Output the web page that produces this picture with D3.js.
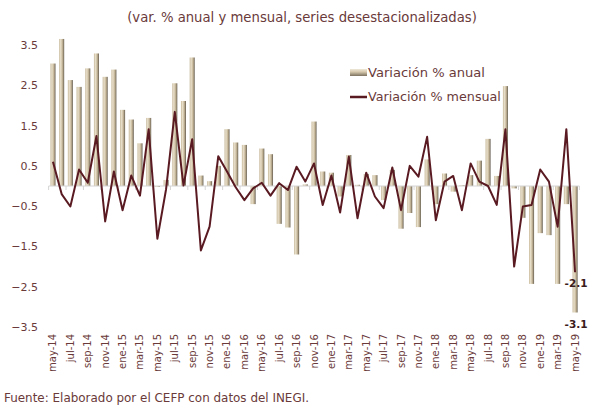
<!DOCTYPE html>
<html><head><meta charset="utf-8">
<script src="https://cdn.jsdelivr.net/npm/d3@7"></script>
<style>
html,body{margin:0;padding:0;background:#fff;}
svg{display:block;font-family:"DejaVu Sans",sans-serif;}
</style></head><body>
<svg id="chart" width="592" height="405"></svg>
<script>
const categories = ["may-14","jun-14","jul-14","ago-14","sep-14","oct-14","nov-14","dic-14",
"ene-15","feb-15","mar-15","abr-15","may-15","jun-15","jul-15","ago-15","sep-15","oct-15","nov-15","dic-15",
"ene-16","feb-16","mar-16","abr-16","may-16","jun-16","jul-16","ago-16","sep-16","oct-16","nov-16","dic-16",
"ene-17","feb-17","mar-17","abr-17","may-17","jun-17","jul-17","ago-17","sep-17","oct-17","nov-17","dic-17",
"ene-18","feb-18","mar-18","abr-18","may-18","jun-18","jul-18","ago-18","sep-18","oct-18","nov-18","dic-18",
"ene-19","feb-19","mar-19","abr-19","may-19"];
const annual = [3.04,3.65,2.63,2.46,2.92,3.29,2.71,2.89,
1.89,1.65,1.06,1.69,0.0,0.15,2.55,2.11,3.19,0.26,0.12,0.5,
1.41,1.08,1.02,-0.45,0.93,0.79,-0.94,-1.03,-1.70,0.04,1.6,0.36,
0.33,-0.26,0.77,0.03,0.3,0.27,-0.35,0.4,-1.06,-0.67,-1.02,0.66,
-0.45,0.31,-0.14,0.02,0.27,0.63,1.17,0.25,2.48,-0.06,-0.79,-2.43,
-1.17,-1.22,-2.43,-0.45,-3.14];
const monthly = [0.60,-0.20,-0.51,0.41,0.08,1.24,-0.88,0.36,
-0.60,0.26,-0.24,1.41,-1.31,-0.08,1.84,0.01,1.16,-1.60,-1.01,0.74,
0.36,-0.03,-0.35,-0.06,0.08,-0.24,0.07,-0.10,0.48,0.11,0.56,-0.47,
0.26,-0.66,0.73,-0.80,0.33,-0.26,-0.55,0.46,-0.60,0.50,0.23,1.22,
-0.85,0.11,0.25,-0.60,0.56,0.11,0.00,-0.47,1.41,-2.00,-0.51,-0.47,
0.41,0.11,-1.01,1.41,-2.14];
const yTicks = [3.5,2.5,1.5,0.5,-0.5,-1.5,-2.5,-3.5];
const seriesNames = ["Variación % anual","Variación % mensual"];
const titleText = "(var. % anual y mensual, series desestacionalizadas)";
const sourceText = "Fuente: Elaborado por el CEFP con datos del INEGI.";
const lastLabels = ["-2.1","-3.1"];

const svg = d3.select("#chart");
const textColor = "#6a3a3a";
const lineColor = "#5a1a22";

const defs = svg.append("defs");
const g1 = defs.append("linearGradient").attr("id","barGrad").attr("x1","0").attr("x2","1").attr("y1","0").attr("y2","0");
[[0,"#c8ba9c"],[0.3,"#e8dfcb"],[0.6,"#cbbd9f"],[0.82,"#9f927a"],[1,"#5c5548"]].forEach(([o,c])=>g1.append("stop").attr("offset",o).attr("stop-color",c));
const g2 = defs.append("linearGradient").attr("id","legGrad").attr("x1","0").attr("x2","0").attr("y1","0").attr("y2","1");
[[0,"#efe8d8"],[0.4,"#d6c9ad"],[1,"#7d7260"]].forEach(([o,c])=>g2.append("stop").attr("offset",o).attr("stop-color",c));

const x = d3.scaleBand().domain(categories).range([48.6,579.4]).paddingInner(0.42).paddingOuter(0.21);
const y = d3.scaleLinear().domain([-3.5,3.5]).range([327,45]);
const step = x.step();
const cx = d => x(d) + x.bandwidth()/2;

function fit(sel, target){
  const w = sel.node().getComputedTextLength();
  const fs = parseFloat(sel.attr("font-size"));
  sel.attr("font-size", (fs*target/w).toFixed(2));
}

// title
const t = svg.append("text").attr("x",302).attr("y",22).attr("text-anchor","middle")
  .attr("font-size",12).attr("fill",textColor).text(titleText);
fit(t,350);

// y axis labels
const yAxis = d3.axisLeft(y).tickValues(yTicks).tickSize(0).tickPadding(0).tickFormat(d3.format(".1f"));
const ya = svg.append("g").attr("transform","translate(38,0)").call(yAxis);
ya.select(".domain").remove();
ya.selectAll("text").attr("fill",textColor).attr("font-size",11).attr("font-family","DejaVu Sans");

// bars
svg.append("g").selectAll("rect").data(annual).join("rect")
  .attr("x",(d,i)=>x(categories[i]))
  .attr("width",x.bandwidth())
  .attr("y",d=>y(Math.max(0,d)))
  .attr("height",d=>Math.max(0.8,Math.abs(y(d)-y(0))))
  .attr("fill","url(#barGrad)");

// zero axis line + ticks
svg.append("line").attr("x1",x.range()[0]).attr("x2",x.range()[1]).attr("y1",y(0)).attr("y2",y(0))
  .attr("stroke","#d4d4d4").attr("stroke-width",1);
svg.append("g").selectAll("line").data(categories.filter((c,i)=>i%2===0).concat(["__end"])).join("line")
  .attr("x1",d=> d==="__end"? x.range()[1] : cx(d)-step/2)
  .attr("x2",d=> d==="__end"? x.range()[1] : cx(d)-step/2)
  .attr("y1",y(0)).attr("y2",y(0)+4).attr("stroke","#d4d4d4");

// line
const line = d3.line().x((d,i)=>cx(categories[i])).y(d=>y(d));
svg.append("path").datum(monthly).attr("d",line).attr("fill","none")
  .attr("stroke",lineColor).attr("stroke-width",2).attr("stroke-linejoin","round");

// x labels
const xAxis = d3.axisBottom(x).tickValues(categories.filter((c,i)=>i%2===0)).tickSize(0).tickPadding(0);
const xa = svg.append("g").attr("transform","translate(0,334)").call(xAxis);
xa.select(".domain").remove();
xa.selectAll("text").attr("transform","rotate(-90)").attr("text-anchor","end")
  .attr("x",0).attr("y",0).attr("dx",0).attr("dy","0.35em")
  .attr("fill",textColor).attr("font-size",10).attr("font-family","DejaVu Sans");

// end labels
const n = categories.length-1;
svg.append("text").attr("x",cx(categories[n])+1).attr("y",y(monthly[n])+15).attr("text-anchor","middle")
  .attr("font-size",10.5).attr("font-weight","bold").attr("fill","#3a1c1c").text(lastLabels[0]);
svg.append("text").attr("x",cx(categories[n])+1).attr("y",y(annual[n])+16).attr("text-anchor","middle")
  .attr("font-size",10.5).attr("font-weight","bold").attr("fill","#3a1c1c").text(lastLabels[1]);

// legend
const lg = svg.append("g");
lg.append("rect").attr("x",350).attr("y",69).attr("width",17).attr("height",7).attr("fill","url(#legGrad)");
const l1 = lg.append("text").attr("x",368).attr("y",77).attr("font-size",12).attr("fill",textColor).text(seriesNames[0]);
fit(l1,117);
lg.append("line").attr("x1",350).attr("x2",367).attr("y1",97).attr("y2",97).attr("stroke",lineColor).attr("stroke-width",2.5);
const l2 = lg.append("text").attr("x",368).attr("y",101).attr("font-size",12).attr("fill",textColor).text(seriesNames[1]);
fit(l2,133);

// source
const s = svg.append("text").attr("x",4).attr("y",402).attr("font-size",11).attr("fill",textColor).text(sourceText);
fit(s,305);
</script>
</body></html>
